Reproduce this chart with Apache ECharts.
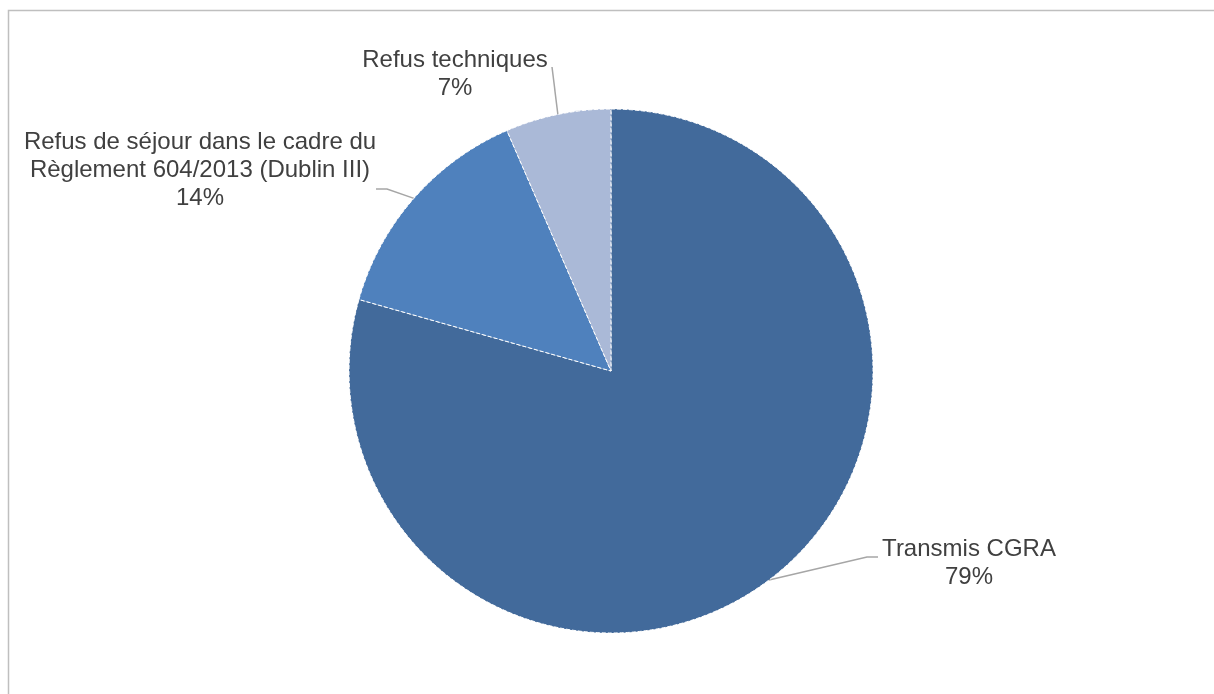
<!DOCTYPE html>
<html lang="fr">
<head>
    <meta charset="UTF-8">
    <title>Répartition des décisions</title>
    <script type="text/javascript" src="https://cdn.jsdelivr.net/npm/echarts@6/dist/echarts.min.js"></script>
    <style>
        html, body { margin: 0; padding: 0; background: #fff; }
    </style>
</head>
<body>
    <div id="main" style="width: 1214px;height:694px;"></div>
    <script type="text/javascript">

        // données (en %)
        var categories = ['Transmis CGRA', 'Refus de séjour dans le cadre du\nRèglement 604/2013 (Dublin III)', 'Refus techniques'];
        var values = [79.4, 14.1, 6.5];
        var colors = ['#426a9b', '#4f81bd', '#aab9d7'];

        // position des étiquettes (centre du bloc) et coudes des traits de rappel
        var labelPos = [
            { x: 969, y: 563, bend: [[867, 557], [878, 557]] },
            { x: 200, y: 170, bend: [[387, 189], [376, 189]] },
            { x: 455, y: 74, bend: [[552, 67]] }
        ];

        var myChart = echarts.init(document.getElementById('main'));

        var pieData = categories.map(function (name, i) {
            return { name: name, value: values[i], itemStyle: { color: colors[i] } };
        });

        var option = {
            backgroundColor: '#fff',
            animation: false,
            graphic: [{
                type: 'rect',
                shape: { x: 8.5, y: 10.5, width: 1220, height: 700 },
                style: { fill: null, stroke: '#bfbfbf', lineWidth: 1.5 }
            }],
            series: [{
                type: 'pie',
                center: [611, 371],
                radius: 262,
                startAngle: 90,
                clockwise: true,
                avoidLabelOverlap: false,
                itemStyle: {
                    borderColor: '#fff',
                    borderWidth: 1,
                    borderType: 'dashed'
                },
                label: {
                    show: true,
                    position: 'outside',
                    color: '#404040',
                    fontSize: 24,
                    lineHeight: 28,
                    fontFamily: 'Liberation Sans, Arial, sans-serif',
                    formatter: function (p) {
                        return p.name + '\n' + Math.round(p.percent) + '%';
                    }
                },
                labelLine: {
                    show: true,
                    length: 20,
                    length2: 10,
                    lineStyle: { color: '#a6a6a6', width: 1.5 }
                },
                labelLayout: function (params) {
                    var lp = labelPos[params.dataIndex];
                    var start = params.labelLinePoints ? params.labelLinePoints[0] : null;
                    var res = {
                        x: lp.x,
                        y: lp.y,
                        align: 'center',
                        verticalAlign: 'middle'
                    };
                    if (start) {
                        res.labelLinePoints = [[start[0], start[1]]].concat(lp.bend);
                    }
                    return res;
                },
                data: pieData
            }]
        };

        myChart.setOption(option);
    </script>
</body>
</html>
